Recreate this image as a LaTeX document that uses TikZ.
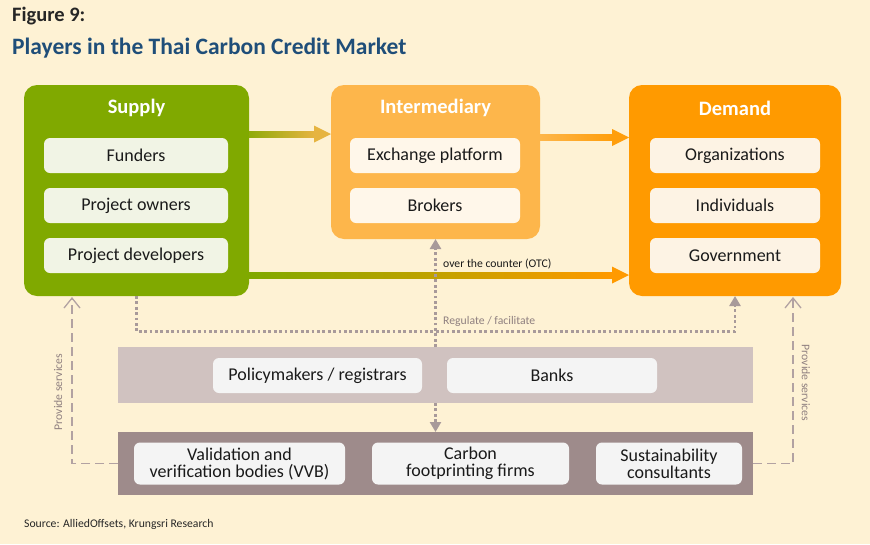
\documentclass[tikz,border=0pt]{standalone}
\usepackage{fontspec}
\setmainfont{Carlito}
\usetikzlibrary{arrows.meta,calc}
\definecolor{bgc}{HTML}{FEF2D4}
\definecolor{greenc}{HTML}{80A900}
\definecolor{greenin}{HTML}{F1F4E5}
\definecolor{interc}{HTML}{FDB64B}
\definecolor{interin}{HTML}{FFF7EA}
\definecolor{demc}{HTML}{FF9A00}
\definecolor{demin}{HTML}{FDF3E4}
\definecolor{band1}{HTML}{D0C2C0}
\definecolor{band2}{HTML}{9E8B8B}
\definecolor{grayin}{HTML}{F4F4F4}
\definecolor{dotc}{HTML}{A89A9A}
\definecolor{dashc}{HTML}{B2A2A2}
\definecolor{titlec}{HTML}{1F4E79}
\definecolor{figc}{HTML}{262626}
\definecolor{labc}{HTML}{8F8080}
\definecolor{goldc}{HTML}{E6B440}
\definecolor{txtc}{HTML}{1A1A1A}
\tikzset{
  bigbox/.style={rounded corners=13pt, inner sep=0pt, outer sep=0pt},
  inbox/.style={rounded corners=6pt, inner sep=0pt, outer sep=0pt, text=txtc,
    font=\fontsize{18}{17}\selectfont, align=center},
  band/.style={inner sep=0pt, outer sep=0pt},
  head/.style={text=white, font=\bfseries\fontsize{20.5}{22}\selectfont},
  dotline/.style={draw=dotc, line width=2.8pt, dash pattern=on 2.8pt off 2.6pt},
  dotarrow/.style={-{Triangle[width=11pt,length=10pt]}, dotc},
  dashline/.style={draw=dashc, line width=1.4pt, dash pattern=on 9pt off 5pt,
    -{Straight Barb[width=16pt,length=10pt,line width=1.3pt]}},
  smalllab/.style={font=\fontsize{11.7}{13}\selectfont, inner sep=0pt},
}
\begin{document}
\begin{tikzpicture}[x=1pt,y=-1pt]
\fill[bgc] (0,0) rectangle (870,544);
\useasboundingbox (0,0) rectangle (870,544);

% titles
\node[anchor=west, inner sep=0pt, text=figc, font=\bfseries\fontsize{20.5}{22}\selectfont] (fig) at (12,16) {Figure 9:};
\node[anchor=west, inner sep=0pt, text=titlec, font=\bfseries\fontsize{23.5}{26}\selectfont] (ttl) at (12,48) {Players in the Thai Carbon Credit Market};

% big boxes
\node[bigbox, fill=greenc, minimum width=225pt, minimum height=211pt] (sup) at (136.5,190.5) {};
\node[bigbox, fill=interc, minimum width=209pt, minimum height=154pt] (int) at (435.5,162) {};
\node[bigbox, fill=demc, minimum width=212pt, minimum height=211pt] (dem) at (735,190.5) {};

\node[head] (suph) at ($(sup.north)+(0,23)$) {Supply};
\node[head] (inth) at ($(int.north)+(0,23)$) {Intermediary};
\node[head] (demh) at ($(dem.north)+(0,23)$) {Demand};

% inner boxes
\node[inbox, fill=greenin, minimum width=184pt, minimum height=35pt] (fun) at (136,155.5) {Funders};
\node[inbox, fill=greenin, minimum width=184pt, minimum height=35pt] (own) at (136,205.5) {Project owners};
\node[inbox, fill=greenin, minimum width=184pt, minimum height=35pt] (devl) at (136,255.5) {Project developers};

\node[inbox, fill=interin, minimum width=170pt, minimum height=35pt] (exch) at (435,155.5) {Exchange platform};
\node[inbox, fill=interin, minimum width=170pt, minimum height=35pt] (brok) at (435,205.5) {Brokers};

\node[inbox, fill=demin, minimum width=170pt, minimum height=35pt] (org) at (735,155.5) {Organizations};
\node[inbox, fill=demin, minimum width=170pt, minimum height=35pt] (indv) at (735,205.5) {Individuals};
\node[inbox, fill=demin, minimum width=170pt, minimum height=35pt] (gov) at (735,255.5) {Government};

% bands
\node[band, fill=band1, minimum width=635pt, minimum height=56pt] (pol) at (435.5,375) {};
\node[band, fill=band2, minimum width=635pt, minimum height=63pt] (bot) at (435.5,463.5) {};

\node[inbox, fill=grayin, minimum width=209pt, minimum height=35pt] (polr) at (317.5,375.5) {Policymakers / registrars};
\node[inbox, fill=grayin, minimum width=210pt, minimum height=35pt] (bank) at (552,375.5) {Banks};

\node[inbox, fill=grayin, minimum width=211pt, minimum height=42pt] (vvb) at (239.5,463.5) {Validation and\\verification bodies (VVB)};
\node[inbox, fill=grayin, minimum width=197pt, minimum height=42pt] (carb) at (470.5,463.5) {Carbon\\footprinting firms};
\node[inbox, fill=grayin, minimum width=146pt, minimum height=42pt] (sust) at (669,463.5) {Sustainability\\consultants};

% arrow supply -> intermediary
\shade[left color=greenc!85!goldc, right color=goldc] ($(sup.north east)+(0,46)$) rectangle ($(int.north west)+(-17,52)$);
\fill[goldc] ($(int.north west)+(-17,40.5)$) -- ($(int.north west)+(0,49)$) -- ($(int.north west)+(-17,57.5)$) -- cycle;

% arrow intermediary -> demand
\shade[left color=interc, right color=demc!85!interc] ($(int.north east)+(0,49.5)$) rectangle ($(dem.north west)+(-17,55.5)$);
\fill[demc!85!interc] ($(dem.north west)+(-17,44)$) -- ($(dem.north west)+(0,52.5)$) -- ($(dem.north west)+(-17,61)$) -- cycle;

% OTC arrow
\shade[left color=greenc, right color=demc] ($(sup.north east)+(0,187)$) rectangle ($(dem.north west)+(-17,193)$);
\fill[demc] ($(dem.north west)+(-17,181.5)$) -- ($(dem.north west)+(0,190)$) -- ($(dem.north west)+(-17,198.5)$) -- cycle;
\node[smalllab, anchor=west, text=txtc] (otc) at (443,264) {over the counter (OTC)};

% dotted regulate line
\draw[dotline, dotarrow] (sup.south) -- ++(0,35.5) -| (dem.south);
\node[smalllab, anchor=west, text=labc] (reg) at (443,321) {Regulate / facilitate};
\draw[dotline, dotarrow] (pol.north) -- (int.south);
\draw[dotline, dotarrow] (pol.south) -- (bot.north);

% dashed provide services
\draw[dashline] (bot.west) -| ($(sup.south west)+(48,1)$);
\draw[dashline] (bot.east) -| ($(dem.south east)+(-48,1)$);
\node[smalllab, rotate=90, text=labc] (ps1) at (58,392) {Provide services};
\node[smalllab, rotate=-90, text=labc] (ps2) at (806,383) {Provide services};

% source
\node[anchor=west, inner sep=0pt, text=figc, font=\fontsize{11.7}{13}\selectfont] (src) at (24,524) {Source: AlliedOffsets, Krungsri Research};
\end{tikzpicture}
\end{document}
